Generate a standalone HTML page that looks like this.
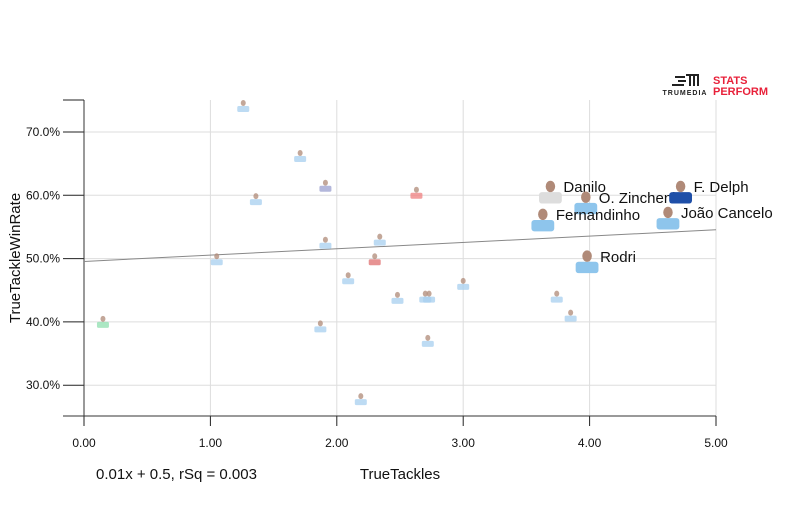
<!DOCTYPE html>
<html><head><meta charset="utf-8"><style>
body{margin:0;background:#fff;width:800px;height:500px;overflow:hidden;font-family:"Liberation Sans",sans-serif}
</style></head><body>
<svg id="chart" width="800" height="500" xmlns="http://www.w3.org/2000/svg">
<g id="grid"></g>
<g id="axes"></g>
<g id="marks"></g>
<text transform="translate(20,258) rotate(-90)" text-anchor="middle" font-size="15" fill="#111">TrueTackleWinRate</text>
<text x="400" y="479" text-anchor="middle" font-size="15" fill="#111">TrueTackles</text>
<text x="96" y="479" font-size="15" fill="#111">0.01x + 0.5, rSq = 0.003</text>
<g>
<rect x="675" y="76" width="10" height="2" fill="#222"/><rect x="678" y="80" width="8" height="2" fill="#222"/><rect x="672" y="84" width="12" height="2" fill="#222"/>
<rect x="686" y="74" width="12" height="2" fill="#222"/><rect x="689" y="74" width="2" height="12" fill="#222"/><rect x="693" y="74" width="2" height="12" fill="#222"/><rect x="697" y="74" width="2" height="12" fill="#222"/>
<text x="685" y="95" text-anchor="middle" font-size="7" font-weight="bold" letter-spacing="1" fill="#222">TRUMEDIA</text>
</g>
<g fill="#e8213a" font-weight="bold" font-size="11">
<text x="713" y="84">STATS</text><text x="713" y="95">PERFORM</text>
</g>
</svg>
<script>
const xTicks=[0,1,2,3,4,5];
const yTicks=[0.3,0.4,0.5,0.6,0.7];
const names=["","","","","","","","","","","","","","","","","","","","","Danilo","O. Zinchenko","F. Delph","Fernandinho","João Cancelo","Rodri"];
const tackles=[1.26,1.71,1.91,1.36,2.63,1.05,1.91,2.34,2.30,2.09,2.48,2.70,2.73,3.00,0.15,1.87,2.72,2.19,3.74,3.85,3.69,3.97,4.72,3.63,4.62,3.98];
const winRate=[0.741,0.662,0.615,0.594,0.604,0.499,0.525,0.53,0.499,0.469,0.438,0.44,0.44,0.46,0.40,0.393,0.37,0.278,0.44,0.41,0.605,0.588,0.605,0.561,0.564,0.495];
const kits=["#a8d0f0","#a8d0f0","#9aa0d0","#a8d0f0","#f08080","#a8d0f0","#a8d0f0","#a8d0f0","#e07070","#a8d0f0","#a8d0f0","#a8d0f0","#a8d0f0","#a8d0f0","#90e0b0","#a8d0f0","#a8d0f0","#a8d0f0","#a8d0f0","#a8d0f0","#ddd","#8ec5ec","#1f4fa8","#8ec5ec","#8ec5ec","#8ec5ec"];
const trend=[0.01,0.4955];
const X=v=>84+v*126.4, Y=v=>132+(0.7-v)*633;
const NS="http://www.w3.org/2000/svg";
function mk(t,a,p){const e=document.createElementNS(NS,t);for(const k in a)e.setAttribute(k,a[k]);p.appendChild(e);return e;}
const grid=document.getElementById('grid'),axes=document.getElementById('axes'),marks=document.getElementById('marks');
yTicks.forEach(v=>{
 const g=mk('line',{x1:84,x2:716,y1:Y(v),y2:Y(v),stroke:'#ddd','stroke-width':1},grid);
 
 
 mk('line',{x1:63,x2:84,y1:Y(v),y2:Y(v),stroke:'#222'},axes);
 const t=mk('text',{x:60,y:Y(v)+4,'text-anchor':'end','font-size':12,fill:'#111'},axes);
 t.textContent=(v*100).toFixed(1)+'%';
 
 
});
xTicks.forEach(v=>{
 if(v>0){const g=mk('line',{x1:X(v),x2:X(v),y1:100,y2:416,stroke:'#ddd'},grid);
 
 }
 mk('line',{x1:X(v),x2:X(v),y1:416,y2:426,stroke:'#222'},axes);
 const t=mk('text',{x:X(v),y:447,'text-anchor':'middle','font-size':12,fill:'#111'},axes);
 t.textContent=v.toFixed(2);
 
 
});
mk('line',{x1:84,x2:84,y1:100,y2:416,stroke:'#333'},axes);
mk('line',{x1:63,x2:84,y1:100,y2:100,stroke:'#222'},axes);
mk('line',{x1:63,x2:716,y1:416,y2:416,stroke:'#333'},axes);
const tl=mk('line',{x1:X(0),x2:X(5),y1:Y(trend[1]),y2:Y(trend[1]+trend[0]*5),stroke:'#888','stroke-width':1},marks);


tackles.forEach((tx,i)=>{
 const cx=X(tx),cy=Y(winRate[i]),big=names[i]!=='';
 const s=big?1.9:1;
 const g=mk('g',{transform:`translate(${cx},${cy}) scale(${s})`,opacity:big?1:0.75},marks);
 
 
 mk('rect',{x:-6,y:0,width:12,height:6,fill:kits[i],rx:1.5},g);
 mk('ellipse',{cx:0,cy:-3,rx:2.5,ry:3,fill:'#b08a78'},g);
 if(big){const t=mk('text',{x:cx+13,y:cy-0,'font-size':15,fill:'#111'},marks);
  t.textContent=names[i];
  
  }
});
</script>
</body></html>
